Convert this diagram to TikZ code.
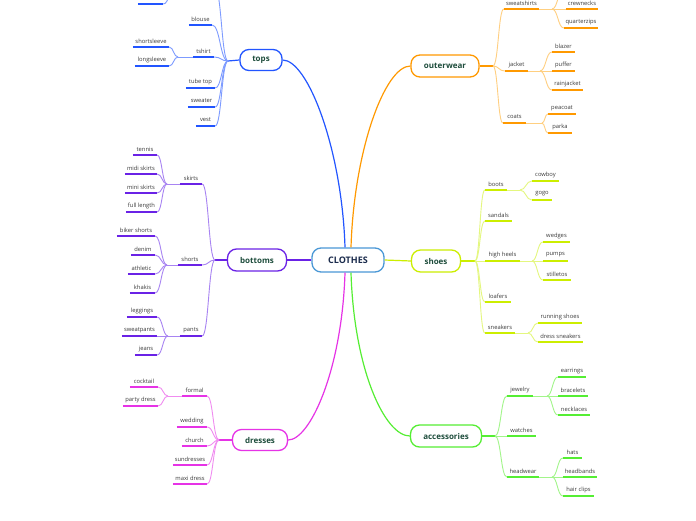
\documentclass[tikz,border=0pt]{standalone}
\usepackage{fontspec}
\setmainfont{Open Sans}
\usetikzlibrary{calc}
\definecolor{cTop}{HTML}{2255FF}\definecolor{cTopL}{HTML}{7D9BFF}
\definecolor{cBot}{HTML}{6A22E6}\definecolor{cBotL}{HTML}{A884F2}
\definecolor{cDre}{HTML}{E633E6}\definecolor{cDreL}{HTML}{F08CF0}
\definecolor{cOut}{HTML}{FF9900}\definecolor{cOutL}{HTML}{FFCF80}
\definecolor{cSho}{HTML}{CCEE00}\definecolor{cShoL}{HTML}{E4F77F}
\definecolor{cAcc}{HTML}{55EE33}\definecolor{cAccL}{HTML}{A2F58A}
\definecolor{cCen}{HTML}{4A98D6}
\definecolor{cTxt}{HTML}{1E4D3C}
\definecolor{cNav}{HTML}{1A2B4C}
\definecolor{cLeaf}{HTML}{3A3A3A}
\tikzset{
  mainnode/.style={draw, line width=1.3pt, rounded corners=9pt, fill=white, inner sep=0pt,
    font=\fontsize{8}{9.5}\selectfont\bfseries, text=cTxt},
  leaft/.style={inner sep=0pt, minimum height=11.5pt, font=\fontsize{5.8}{6.8}\selectfont, text=cLeaf, anchor=south},
  ul/.style={line width=1.8pt},
  br/.style={line width=0.9pt},
  stub/.style={line width=1.2pt},
  maincon/.style={line width=1.2pt}
}
\newcommand\mkleaf[6]{%
  \node[leaft, minimum width={(#3-#2)*1pt}] (#1) at ({(#2+#3)/2},#4) {#5};
  \draw[ul,#6] (#1.south west) -- (#1.south east);}
\newcommand\cc[3]{%
  \draw[br,#3] let \p1=(#1),\p2=(#2) in (#1) .. controls ({(\x1+\x2)/2},\y1) and ({(\x1+\x2)/2},\y2) .. (#2);}
\begin{document}
\begin{tikzpicture}[x=1pt,y=-1pt]
\useasboundingbox (0,0) rectangle (696,520);
\fill[white] (0,0) rectangle (696,520);
\clip (0,0) rectangle (696,520);

% main nodes
\node[mainnode, draw=cCen, minimum width=72pt, minimum height=24pt, text=cNav, font=\fontsize{9}{10.5}\selectfont\bfseries] (C) at (348,260) {CLOTHES};
\node[mainnode, draw=cTop, minimum width=42pt, minimum height=21pt] (tops) at (261,60) {tops};
\node[mainnode, draw=cBot, minimum width=59pt, minimum height=22pt] (bottoms) at (257,260) {bottoms};
\node[mainnode, draw=cDre, minimum width=55pt, minimum height=21pt] (dresses) at (260,440) {dresses};
\node[mainnode, draw=cOut, minimum width=68pt, minimum height=22pt] (outerwear) at (445,66) {outerwear};
\node[mainnode, draw=cSho, minimum width=49pt, minimum height=22pt] (shoes) at (436,261) {shoes};
\node[mainnode, draw=cAcc, minimum width=71pt, minimum height=22pt] (accessories) at (446,436) {accessories};

% main connectors
\draw[maincon,cTop] ([xshift=-3pt]C.north) .. controls (342,150) and (308,60) .. (tops.east);
\draw[maincon,cOut] ([xshift=3pt]C.north) .. controls (354,150) and (385,66) .. (outerwear.west);
\draw[maincon,cBot] (C.west) -- (bottoms.east);
\draw[maincon,cSho] (C.east) -- (shoes.west);
\draw[maincon,cDre] ([xshift=-3pt]C.south) .. controls (342,370) and (310,440) .. (dresses.east);
\draw[maincon,cAcc] ([xshift=3pt]C.south) .. controls (354,370) and (385,436) .. (accessories.west);

% ---------- tops ----------
\coordinate (tJ) at (228,61);
\coordinate (tsJ) at (178,57);
\coordinate (tcut) at (215,-12);
\coordinate (tcJ) at (175,-12);
\mkleaf{blouse}{189}{212}{25}{blouse}{cTop}
\mkleaf{tshirt}{193}{214}{57}{tshirt}{cTop}
\mkleaf{tube}{186}{215}{88}{tube top}{cTop}
\mkleaf{sweater}{188}{215}{107}{sweater}{cTop}
\mkleaf{vest}{196}{215}{126}{vest}{cTop}
\mkleaf{shortsl}{133}{169}{47}{shortsleeve}{cTop}
\mkleaf{longsl}{135}{169}{66}{longsleeve}{cTop}
\mkleaf{tcg}{138}{163}{4}{}{cTop}
\draw[stub,cTop] (tops.west) -- (tJ);
\cc{tJ}{blouse.south east}{cTopL}
\cc{tJ}{tshirt.south east}{cTopL}
\cc{tJ}{tube.south east}{cTopL}
\cc{tJ}{sweater.south east}{cTopL}
\cc{tJ}{vest.south east}{cTopL}
\cc{tJ}{tcut}{cTopL}
\draw[br,cTopL] (tshirt.south west) -- (tsJ);
\cc{tsJ}{shortsl.south east}{cTopL}
\cc{tsJ}{longsl.south east}{cTopL}
\cc{tcJ}{tcg.south east}{cTopL}

% ---------- bottoms ----------
\coordinate (bJ) at (215,260);
\coordinate (skJ) at (167,184);
\coordinate (shJ) at (167,265);
\coordinate (paJ) at (168,336);
\mkleaf{skirts}{180}{202}{184}{skirts}{cBot}
\mkleaf{shorts}{178}{202}{265}{shorts}{cBot}
\mkleaf{pants}{180}{202}{336}{pants}{cBot}
\mkleaf{tennis}{133}{157}{155}{tennis}{cBot}
\mkleaf{midi}{125}{157}{174}{midi skirts}{cBot}
\mkleaf{mini}{125}{157}{193}{mini skirts}{cBot}
\mkleaf{full}{126}{157}{212}{full length}{cBot}
\mkleaf{biker}{117}{155}{236}{biker shorts}{cBot}
\mkleaf{denim}{131}{155}{255}{denim}{cBot}
\mkleaf{athletic}{128}{155}{274}{athletic}{cBot}
\mkleaf{khakis}{130}{155}{293}{khakis}{cBot}
\mkleaf{leggings}{127}{157}{317}{leggings}{cBot}
\mkleaf{sweatp}{122}{157}{336}{sweatpants}{cBot}
\mkleaf{jeans}{135}{157}{355}{jeans}{cBot}
\draw[stub,cBot] (bottoms.west) -- (bJ);
\cc{bJ}{skirts.south east}{cBotL}
\cc{bJ}{shorts.south east}{cBotL}
\cc{bJ}{pants.south east}{cBotL}
\draw[br,cBotL] (skirts.south west) -- (skJ);
\draw[br,cBotL] (shorts.south west) -- (shJ);
\draw[br,cBotL] (pants.south west) -- (paJ);
\cc{skJ}{tennis.south east}{cBotL}
\cc{skJ}{midi.south east}{cBotL}
\cc{skJ}{mini.south east}{cBotL}
\cc{skJ}{full.south east}{cBotL}
\cc{shJ}{biker.south east}{cBotL}
\cc{shJ}{denim.south east}{cBotL}
\cc{shJ}{athletic.south east}{cBotL}
\cc{shJ}{khakis.south east}{cBotL}
\cc{paJ}{leggings.south east}{cBotL}
\cc{paJ}{sweatp.south east}{cBotL}
\cc{paJ}{jeans.south east}{cBotL}

% ---------- dresses ----------
\coordinate (dJ) at (219,440);
\coordinate (foJ) at (168,396);
\mkleaf{formal}{182}{207}{396}{formal}{cDre}
\mkleaf{wedding}{177}{207}{427}{wedding}{cDre}
\mkleaf{church}{182}{207}{446}{church}{cDre}
\mkleaf{sund}{173}{207}{465}{sundresses}{cDre}
\mkleaf{maxi}{173}{207}{484}{maxi dress}{cDre}
\mkleaf{cocktail}{130}{158}{387}{cocktail}{cDre}
\mkleaf{party}{123}{158}{406}{party dress}{cDre}
\draw[stub,cDre] (dresses.west) -- (dJ);
\cc{dJ}{formal.south east}{cDreL}
\cc{dJ}{wedding.south east}{cDreL}
\cc{dJ}{church.south east}{cDreL}
\cc{dJ}{sund.south east}{cDreL}
\cc{dJ}{maxi.south east}{cDreL}
\draw[br,cDreL] (formal.south west) -- (foJ);
\cc{foJ}{cocktail.south east}{cDreL}
\cc{foJ}{party.south east}{cDreL}

% ---------- outerwear ----------
\coordinate (oJ) at (493,66);
\coordinate (swJ) at (552,9);
\coordinate (ocut) at (564,-12);
\coordinate (jaJ) at (540,71);
\coordinate (coJ) at (542,123);
\mkleaf{sweatsh}{504}{539}{9}{sweatshirts}{cOut}
\mkleaf{jacket}{505}{528}{71}{jacket}{cOut}
\mkleaf{coats}{503}{526}{123}{coats}{cOut}
\mkleaf{crew}{566}{598}{9}{crewnecks}{cOut}
\mkleaf{quarter}{564}{598}{28}{quarterzips}{cOut}
\mkleaf{blazer}{552}{575}{52}{blazer}{cOut}
\mkleaf{puffer}{552}{575}{71}{puffer}{cOut}
\mkleaf{rain}{552}{583}{90}{rainjacket}{cOut}
\mkleaf{peacoat}{548}{576}{114}{peacoat}{cOut}
\mkleaf{parka}{548}{572}{133}{parka}{cOut}
\draw[stub,cOut] (outerwear.east) -- (oJ);
\cc{oJ}{sweatsh.south west}{cOutL}
\cc{oJ}{jacket.south west}{cOutL}
\cc{oJ}{coats.south west}{cOutL}
\draw[br,cOutL] (sweatsh.south east) -- (swJ);
\draw[br,cOutL] (jacket.south east) -- (jaJ);
\draw[br,cOutL] (coats.south east) -- (coJ);
\cc{swJ}{crew.south west}{cOutL}
\cc{swJ}{quarter.south west}{cOutL}
\cc{swJ}{ocut}{cOutL}
\cc{jaJ}{blazer.south west}{cOutL}
\cc{jaJ}{puffer.south west}{cOutL}
\cc{jaJ}{rain.south west}{cOutL}
\cc{coJ}{peacoat.south west}{cOutL}
\cc{coJ}{parka.south west}{cOutL}

% ---------- shoes ----------
\coordinate (sJ) at (475,261);
\coordinate (boJ) at (520,190);
\coordinate (hhJ) at (532,261);
\coordinate (snJ) at (528,333);
\mkleaf{boots}{485}{507}{190}{boots}{cSho}
\mkleaf{sandals}{485}{512}{221}{sandals}{cSho}
\mkleaf{heels}{485}{520}{261}{high heels}{cSho}
\mkleaf{loafers}{485}{511}{302}{loafers}{cSho}
\mkleaf{sneakers}{485}{515}{333}{sneakers}{cSho}
\mkleaf{cowboy}{532}{559}{181}{cowboy}{cSho}
\mkleaf{gogo}{532}{552}{200}{gogo}{cSho}
\mkleaf{wedges}{543}{570}{242}{wedges}{cSho}
\mkleaf{pumps}{543}{568}{261}{pumps}{cSho}
\mkleaf{stil}{543}{571}{280}{stilletos}{cSho}
\mkleaf{running}{538}{582}{323}{running shoes}{cSho}
\mkleaf{dresssn}{538}{583}{342}{dress sneakers}{cSho}
\draw[stub,cSho] (shoes.east) -- (sJ);
\cc{sJ}{boots.south west}{cShoL}
\cc{sJ}{sandals.south west}{cShoL}
\cc{sJ}{heels.south west}{cShoL}
\cc{sJ}{loafers.south west}{cShoL}
\cc{sJ}{sneakers.south west}{cShoL}
\draw[br,cShoL] (boots.south east) -- (boJ);
\draw[br,cShoL] (heels.south east) -- (hhJ);
\draw[br,cShoL] (sneakers.south east) -- (snJ);
\cc{boJ}{cowboy.south west}{cShoL}
\cc{boJ}{gogo.south west}{cShoL}
\cc{hhJ}{wedges.south west}{cShoL}
\cc{hhJ}{pumps.south west}{cShoL}
\cc{hhJ}{stil.south west}{cShoL}
\cc{snJ}{running.south west}{cShoL}
\cc{snJ}{dresssn.south west}{cShoL}

% ---------- accessories ----------
\coordinate (aJ) at (495,436);
\coordinate (jwJ) at (547,396);
\coordinate (hwJ) at (552,477);
\mkleaf{jewelry}{507}{533}{396}{jewelry}{cAcc}
\mkleaf{watches}{507}{536}{436}{watches}{cAcc}
\mkleaf{headwear}{507}{539}{477}{headwear}{cAcc}
\mkleaf{earrings}{558}{586}{377}{earrings}{cAcc}
\mkleaf{bracelets}{558}{588}{396}{bracelets}{cAcc}
\mkleaf{necklaces}{558}{590}{415}{necklaces}{cAcc}
\mkleaf{hats}{563}{582}{458}{hats}{cAcc}
\mkleaf{headbands}{563}{597}{477}{headbands}{cAcc}
\mkleaf{hairclips}{563}{594}{496}{hair clips}{cAcc}
\draw[stub,cAcc] (accessories.east) -- (aJ);
\cc{aJ}{jewelry.south west}{cAccL}
\cc{aJ}{watches.south west}{cAccL}
\cc{aJ}{headwear.south west}{cAccL}
\draw[br,cAccL] (jewelry.south east) -- (jwJ);
\draw[br,cAccL] (headwear.south east) -- (hwJ);
\cc{jwJ}{earrings.south west}{cAccL}
\cc{jwJ}{bracelets.south west}{cAccL}
\cc{jwJ}{necklaces.south west}{cAccL}
\cc{hwJ}{hats.south west}{cAccL}
\cc{hwJ}{headbands.south west}{cAccL}
\cc{hwJ}{hairclips.south west}{cAccL}
\end{tikzpicture}
\end{document}
